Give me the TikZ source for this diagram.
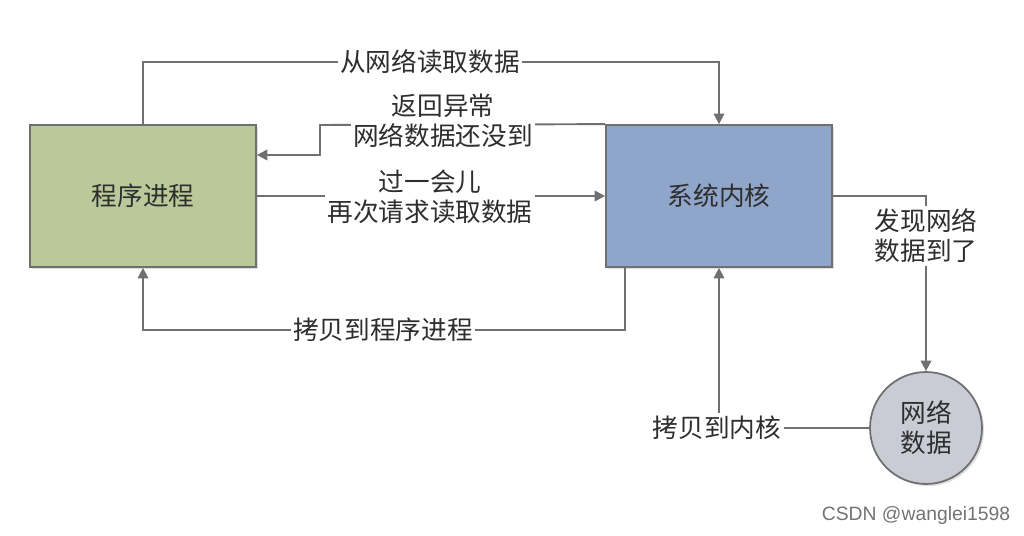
\documentclass[tikz,border=0pt]{standalone}
\usepackage{fontspec}
\setmainfont{Noto Sans CJK SC}
\newfontfamily\markfont{Liberation Sans}
\usetikzlibrary{positioning,arrows.meta,shadows}
\definecolor{procgreen}{HTML}{B9C999}
\definecolor{kernblue}{HTML}{8FA5C9}
\definecolor{netgray}{HTML}{C9CCD4}
\definecolor{linegray}{HTML}{707070}
\definecolor{textgray}{HTML}{2E2E2E}

\begin{document}
\begin{tikzpicture}[x=0.02cm,y=-0.02cm,
  box/.style={draw=linegray, line width=1pt, minimum width=4.52cm,
    minimum height=2.84cm, inner sep=0pt, text=textgray,
    font=\fontsize{14.6}{17}\selectfont,
    drop shadow={opacity=0.25, shadow xshift=1.2pt, shadow yshift=-1.2pt}},
  flow/.style={draw=linegray, line width=1.1pt,
    -{Triangle[length=6pt,width=6pt]}},
  lbl/.style={fill=white, inner sep=1.5pt, text=textgray, align=center,
    font=\fontsize{14.6}{17}\selectfont}]
  \useasboundingbox (0,0) rectangle (1024,536);

  % boxes
  \node[box, fill=procgreen] (proc) at (143,196) {程序进程};
  \node[box, fill=kernblue] (kern) at (719,196) {系统内核};
  \node[box, circle, fill=netgray, minimum size=2.24cm,
    align=center] (net) at (926,428) {网络\\数据};

  % helper points
  \coordinate (t1) at (143,62);
  \coordinate (r1) at (320,125);
  \coordinate (r2) at (320,155);
  \coordinate (b1) at (625,330);
  \coordinate (n1) at (926,196);
  \coordinate (k1) at (719,428);

  % connectors
  \draw[flow] (proc.north) -- (t1) -| (kern.north);
  \draw[flow] (kern.north west) -- (r1) -- (r2) -- (r2 -| proc.east);
  \draw[flow] (proc.east) -- (kern.west);
  \draw[flow] (kern.south west -| b1) -- (b1) -| (proc.south);
  \draw[flow] (kern.east) -- (n1) -- (net.north);
  \draw[flow] (net.west) -- (k1) -- (kern.south);

  % labels
  \node[lbl] (l1) at (430,62) {从网络读取数据};
  \node[lbl] (l2) at (443,121) {返回异常\\网络数据还没到};
  \node[lbl] (l3) at (430,197) {过一会儿\\再次请求读取数据};
  \node[lbl] (l4) at (383,330) {拷贝到程序进程};
  \node[lbl] (l5) at (926,236) {发现网络\\数据到了};
  \node[lbl] (l6) at (717,428) {拷贝到内核};

  \node[text=black!55, font=\markfont\fontsize{11}{13}\selectfont]
    (mark) at (916,516) {CSDN @wanglei1598};
\end{tikzpicture}
\end{document}
